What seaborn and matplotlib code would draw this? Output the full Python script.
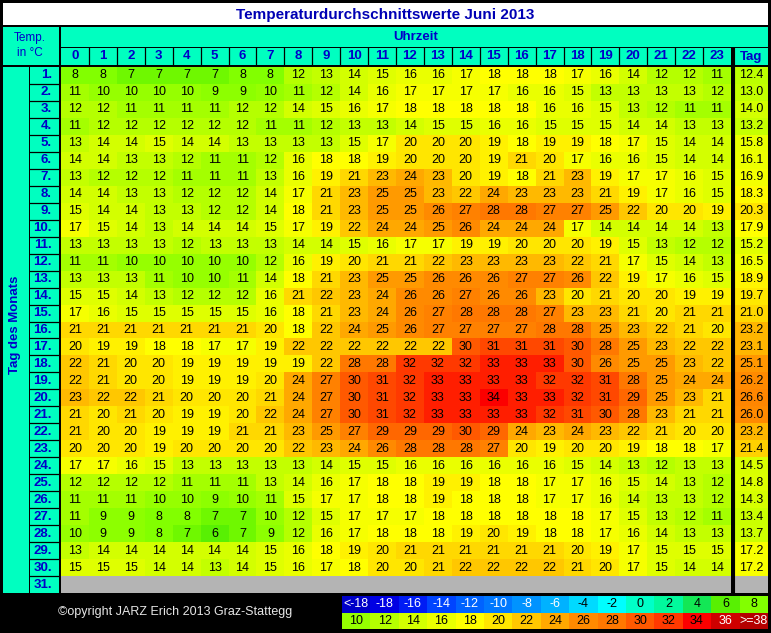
import matplotlib.pyplot as plt
import numpy as np
import pandas as pd
import seaborn as sns
from matplotlib.colors import LinearSegmentedColormap
from matplotlib.lines import Line2D
from matplotlib.patches import Rectangle

plt.rcParams['font.family'] = ['Liberation Sans', 'DejaVu Sans']

hours = list(range(24))
days = [f"{d}." for d in range(1, 32)]

# hourly means (rows = day 1..30, cols = hour 0..23)
june = [
    [8, 8, 7, 7, 7, 7, 8, 8, 12, 13, 14, 15, 16, 16, 17, 18, 18, 18, 17, 16, 14, 12, 12, 11],
    [11, 10, 10, 10, 10, 9, 9, 10, 11, 12, 14, 16, 17, 17, 17, 17, 16, 16, 15, 13, 13, 13, 13, 12],
    [12, 12, 11, 11, 11, 11, 12, 12, 14, 15, 16, 17, 18, 18, 18, 18, 18, 16, 16, 15, 13, 12, 11, 11],
    [11, 12, 12, 12, 12, 12, 12, 11, 11, 12, 13, 13, 14, 15, 15, 16, 16, 15, 15, 15, 14, 14, 13, 13],
    [13, 14, 14, 15, 14, 14, 13, 13, 13, 13, 15, 17, 20, 20, 20, 19, 18, 19, 19, 18, 17, 15, 14, 14],
    [14, 14, 13, 13, 12, 11, 11, 12, 16, 18, 18, 19, 20, 20, 20, 19, 21, 20, 17, 16, 16, 15, 14, 14],
    [13, 12, 12, 12, 11, 11, 11, 13, 16, 19, 21, 23, 24, 23, 20, 19, 18, 21, 23, 19, 17, 17, 16, 15],
    [14, 14, 13, 13, 12, 12, 12, 14, 17, 21, 23, 25, 25, 23, 22, 24, 23, 23, 23, 21, 19, 17, 16, 15],
    [15, 14, 14, 13, 13, 12, 12, 14, 18, 21, 23, 25, 25, 26, 27, 28, 28, 27, 27, 25, 22, 20, 20, 19],
    [17, 15, 14, 13, 14, 14, 14, 15, 17, 19, 22, 24, 24, 25, 26, 24, 24, 24, 17, 14, 14, 14, 14, 13],
    [13, 13, 13, 13, 12, 13, 13, 13, 14, 14, 15, 16, 17, 17, 19, 19, 20, 20, 20, 19, 15, 13, 12, 12],
    [11, 11, 10, 10, 10, 10, 10, 12, 16, 19, 20, 21, 21, 22, 23, 23, 23, 23, 22, 21, 17, 15, 14, 13],
    [13, 13, 13, 11, 10, 10, 11, 14, 18, 21, 23, 25, 25, 26, 26, 26, 27, 27, 26, 22, 19, 17, 16, 15],
    [15, 15, 14, 13, 12, 12, 12, 16, 21, 22, 23, 24, 26, 26, 27, 26, 26, 23, 20, 21, 20, 20, 19, 19],
    [17, 16, 15, 15, 15, 15, 15, 16, 18, 21, 23, 24, 26, 27, 28, 28, 28, 27, 23, 23, 21, 20, 21, 21],
    [21, 21, 21, 21, 21, 21, 21, 20, 18, 22, 24, 25, 26, 27, 27, 27, 27, 28, 28, 25, 23, 22, 21, 20],
    [20, 19, 19, 18, 18, 17, 17, 19, 22, 22, 22, 22, 22, 22, 30, 31, 31, 31, 30, 28, 25, 23, 22, 22],
    [22, 21, 20, 20, 19, 19, 19, 19, 19, 22, 28, 28, 32, 32, 32, 33, 33, 33, 30, 26, 25, 25, 23, 22],
    [22, 21, 20, 20, 19, 19, 19, 20, 24, 27, 30, 31, 32, 33, 33, 33, 33, 32, 32, 31, 28, 25, 24, 24],
    [23, 22, 22, 21, 20, 20, 20, 21, 24, 27, 30, 31, 32, 33, 33, 34, 33, 33, 32, 31, 29, 25, 23, 21],
    [21, 20, 21, 20, 19, 19, 20, 22, 24, 27, 30, 31, 32, 33, 33, 33, 33, 32, 31, 30, 28, 23, 21, 21],
    [21, 20, 20, 19, 19, 19, 21, 21, 23, 25, 27, 29, 29, 29, 30, 29, 24, 23, 24, 23, 22, 21, 20, 20],
    [20, 20, 20, 19, 20, 20, 20, 20, 22, 23, 24, 26, 28, 28, 28, 27, 20, 19, 20, 20, 19, 18, 18, 17],
    [17, 17, 16, 15, 13, 13, 13, 13, 13, 14, 15, 15, 16, 16, 16, 16, 16, 16, 15, 14, 13, 12, 13, 13],
    [12, 12, 12, 12, 11, 11, 11, 13, 14, 16, 17, 18, 18, 19, 19, 18, 18, 17, 17, 16, 15, 14, 13, 12],
    [11, 11, 11, 10, 10, 9, 10, 11, 15, 17, 17, 18, 18, 19, 18, 18, 18, 17, 17, 16, 14, 13, 13, 12],
    [11, 9, 9, 8, 8, 7, 7, 10, 12, 15, 17, 17, 17, 18, 18, 18, 18, 18, 18, 17, 15, 13, 12, 11],
    [10, 9, 9, 8, 7, 6, 7, 9, 12, 16, 17, 18, 18, 18, 19, 20, 19, 18, 18, 17, 16, 14, 13, 13],
    [13, 14, 14, 14, 14, 14, 14, 15, 16, 18, 19, 20, 21, 21, 21, 21, 21, 21, 20, 19, 17, 15, 15, 15],
    [15, 15, 15, 14, 14, 13, 14, 15, 16, 17, 18, 20, 20, 21, 22, 22, 22, 22, 21, 20, 17, 15, 14, 14],
]
tag_mean = [12.4, 13.0, 14.0, 13.2, 15.8, 16.1, 16.9, 18.3, 20.3, 17.9,
            15.2, 16.5, 18.9, 19.7, 21.0, 23.2, 23.1, 25.1, 26.2, 26.6,
            26.0, 23.2, 21.4, 14.5, 14.8, 14.3, 13.4, 13.7, 17.2, 17.2]

legend_top_labels = ["<-18", "-18", "-16", "-14", "-12", "-10", "-8", "-6", "-4", "-2", "0", "2", "4", "6", "8"]
legend_top_values = [-20, -18, -16, -14, -12, -10, -8, -6, -4, -2, 0, 2, 4, 6, 8]
legend_bot_labels = ["10", "12", "14", "16", "18", "20", "22", "24", "26", "28", "30", "32", "34", "36", ">=38"]
legend_bot_values = [10, 12, 14, 16, 18, 20, 22, 24, 26, 28, 30, 32, 34, 36, 38]
legend_colors = ["#0000C8", "#0000E6", "#001EF5", "#0046FF", "#0064FF", "#0078FF", "#0096FF", "#00B4FF",
                 "#00DCFF", "#00FFFF", "#00FFC8", "#00FAA0", "#14E650", "#5AF000", "#82FF00",
                 "#96FF00", "#B4FF00", "#D2FF00", "#EBFF00", "#FFFF00", "#FFE600", "#FFC800", "#FFAA00",
                 "#FF8C00", "#FF7800", "#FF5A00", "#FF3C00", "#FF0000", "#D20000", "#B40000"]

W, H = 771, 633
AQUA = "#00FFC0"
BLUE = "#0000C8"

all_vals = legend_top_values + legend_bot_values
vmin, vmax = all_vals[0], all_vals[-1]
cmap = LinearSegmentedColormap.from_list(
    "jarz", [((v - vmin) / (vmax - vmin), c) for v, c in zip(all_vals, legend_colors)])


def box(x0, y0, x1, y1):
    return [x0 / W, 1 - y1 / H, (x1 - x0) / W, (y1 - y0) / H]


def rect(fig, x0, y0, x1, y1, color):
    fig.add_artist(Rectangle((x0 / W, 1 - y1 / H), (x1 - x0) / W, (y1 - y0) / H,
                             transform=fig.transFigure, color=color, lw=0, zorder=-5))


def line(fig, x0, y0, x1, y1, color="black", lw=0.9):
    fig.add_artist(Line2D([x0 / W, x1 / W], [1 - y0 / H, 1 - y1 / H],
                          transform=fig.transFigure, color=color, lw=lw, zorder=5))


def ftext(fig, x, y, s, **kw):
    fig.text(x / W, 1 - y / H, s, **kw)


fig = plt.figure(figsize=(W / 100, H / 100), dpi=100, facecolor="black")

# frame areas
rect(fig, 3, 3, 768, 25, "white")
rect(fig, 3, 27, 59, 65, AQUA)
rect(fig, 61, 27, 768, 47, AQUA)
rect(fig, 61, 48, 731, 65, AQUA)
rect(fig, 734, 48, 768, 65, AQUA)
rect(fig, 3, 67, 29, 593, AQUA)
rect(fig, 30, 67, 59, 593, AQUA)
rect(fig, 732, 48, 733, 593, "white")

x0g, x1g, y0g, y1g = 61, 731, 67, 593
cw = (x1g - x0g) / 24
rh = (y1g - y0g) / 31
for k in range(1, 24):
    line(fig, x0g + k * cw, 48, x0g + k * cw, 65)
for k in range(1, 31):
    line(fig, 30, y0g + k * rh, 59, y0g + k * rh)

# main grid
grid = pd.DataFrame(june + [[np.nan] * 24], index=days, columns=hours, dtype=float)
ax = fig.add_axes(box(x0g, y0g, x1g, y1g))
sns.heatmap(grid, ax=ax, cmap=cmap, vmin=vmin, vmax=vmax, cbar=False,
            annot=True, fmt=".0f", annot_kws={"color": "black", "fontsize": 9})
ax.set_facecolor("#B4B4B4")
ax.xaxis.tick_top()
ax.tick_params(axis="both", length=0)
ax.tick_params(axis="x", pad=3.5)
ax.tick_params(axis="y", pad=6.5)
ax.set_xlabel("")
ax.set_ylabel("")
for t in ax.get_xticklabels():
    t.set_color(BLUE)
    t.set_fontweight("bold")
    t.set_fontsize(9.5)
for t in ax.get_yticklabels():
    t.set_color(BLUE)
    t.set_fontweight("bold")
    t.set_fontsize(9.5)
    t.set_rotation(0)
    t.set_ha("right")

# daily mean column
tag = pd.DataFrame({"Tag": tag_mean + [np.nan]}, index=days)
axt = fig.add_axes(box(734, y0g, 768, y1g))
sns.heatmap(tag, ax=axt, cmap=cmap, vmin=vmin, vmax=vmax, cbar=False,
            annot=True, fmt=".1f", annot_kws={"color": "black", "fontsize": 9},
            xticklabels=False, yticklabels=False)
axt.set_facecolor("#B4B4B4")
axt.set_xlabel("")
axt.set_ylabel("")

# colour legend
leg_vals = pd.DataFrame([legend_top_values, legend_bot_values])
leg_labels = np.array([legend_top_labels, legend_bot_labels])
axl = fig.add_axes(box(342, 596, 768, 629))
sns.heatmap(leg_vals, ax=axl, cmap=cmap, vmin=vmin, vmax=vmax, cbar=False,
            annot=leg_labels, fmt="", annot_kws={"fontsize": 9},
            xticklabels=False, yticklabels=False)
for t, v in zip(axl.texts, legend_top_values + legend_bot_values):
    t.set_color("white" if (v <= -6 or v >= 36) else "black")
axl.set_xlabel("")
axl.set_ylabel("")

# double line left of "Tag"
line(fig, 731.5, 48, 731.5, 593, lw=0.8)
line(fig, 733.5, 48, 733.5, 593, lw=0.8)

# texts
ftext(fig, 385, 14.5, "Temperaturdurchschnittswerte Juni 2013", ha="center", va="center",
      color="#0000B4", fontsize=11, fontweight="bold",
      family=["Liberation Sans Narrow", "Liberation Sans"])
ftext(fig, 30, 38, "Temp.", ha="center", va="center", color=BLUE, fontsize=8.5)
ftext(fig, 30, 53, "in °C", ha="center", va="center", color=BLUE, fontsize=8.5)
ftext(fig, 416, 37, "Uhrzeit", ha="center", va="center", color=BLUE, fontsize=9.5, fontweight="bold")
ftext(fig, 751, 57, "Tag", ha="center", va="center", color=BLUE, fontsize=9.5, fontweight="bold")
ftext(fig, 15, 325, "Tag des Monats", ha="center", va="center", rotation=90,
      color=BLUE, fontsize=9.5, fontweight="bold")
ftext(fig, 58, 612, "©opyright JARZ Erich 2013 Graz-Stattegg", ha="left", va="center",
      color="#E6E6E6", fontsize=9)

fig.savefig("out.png", dpi=100, facecolor="black")
